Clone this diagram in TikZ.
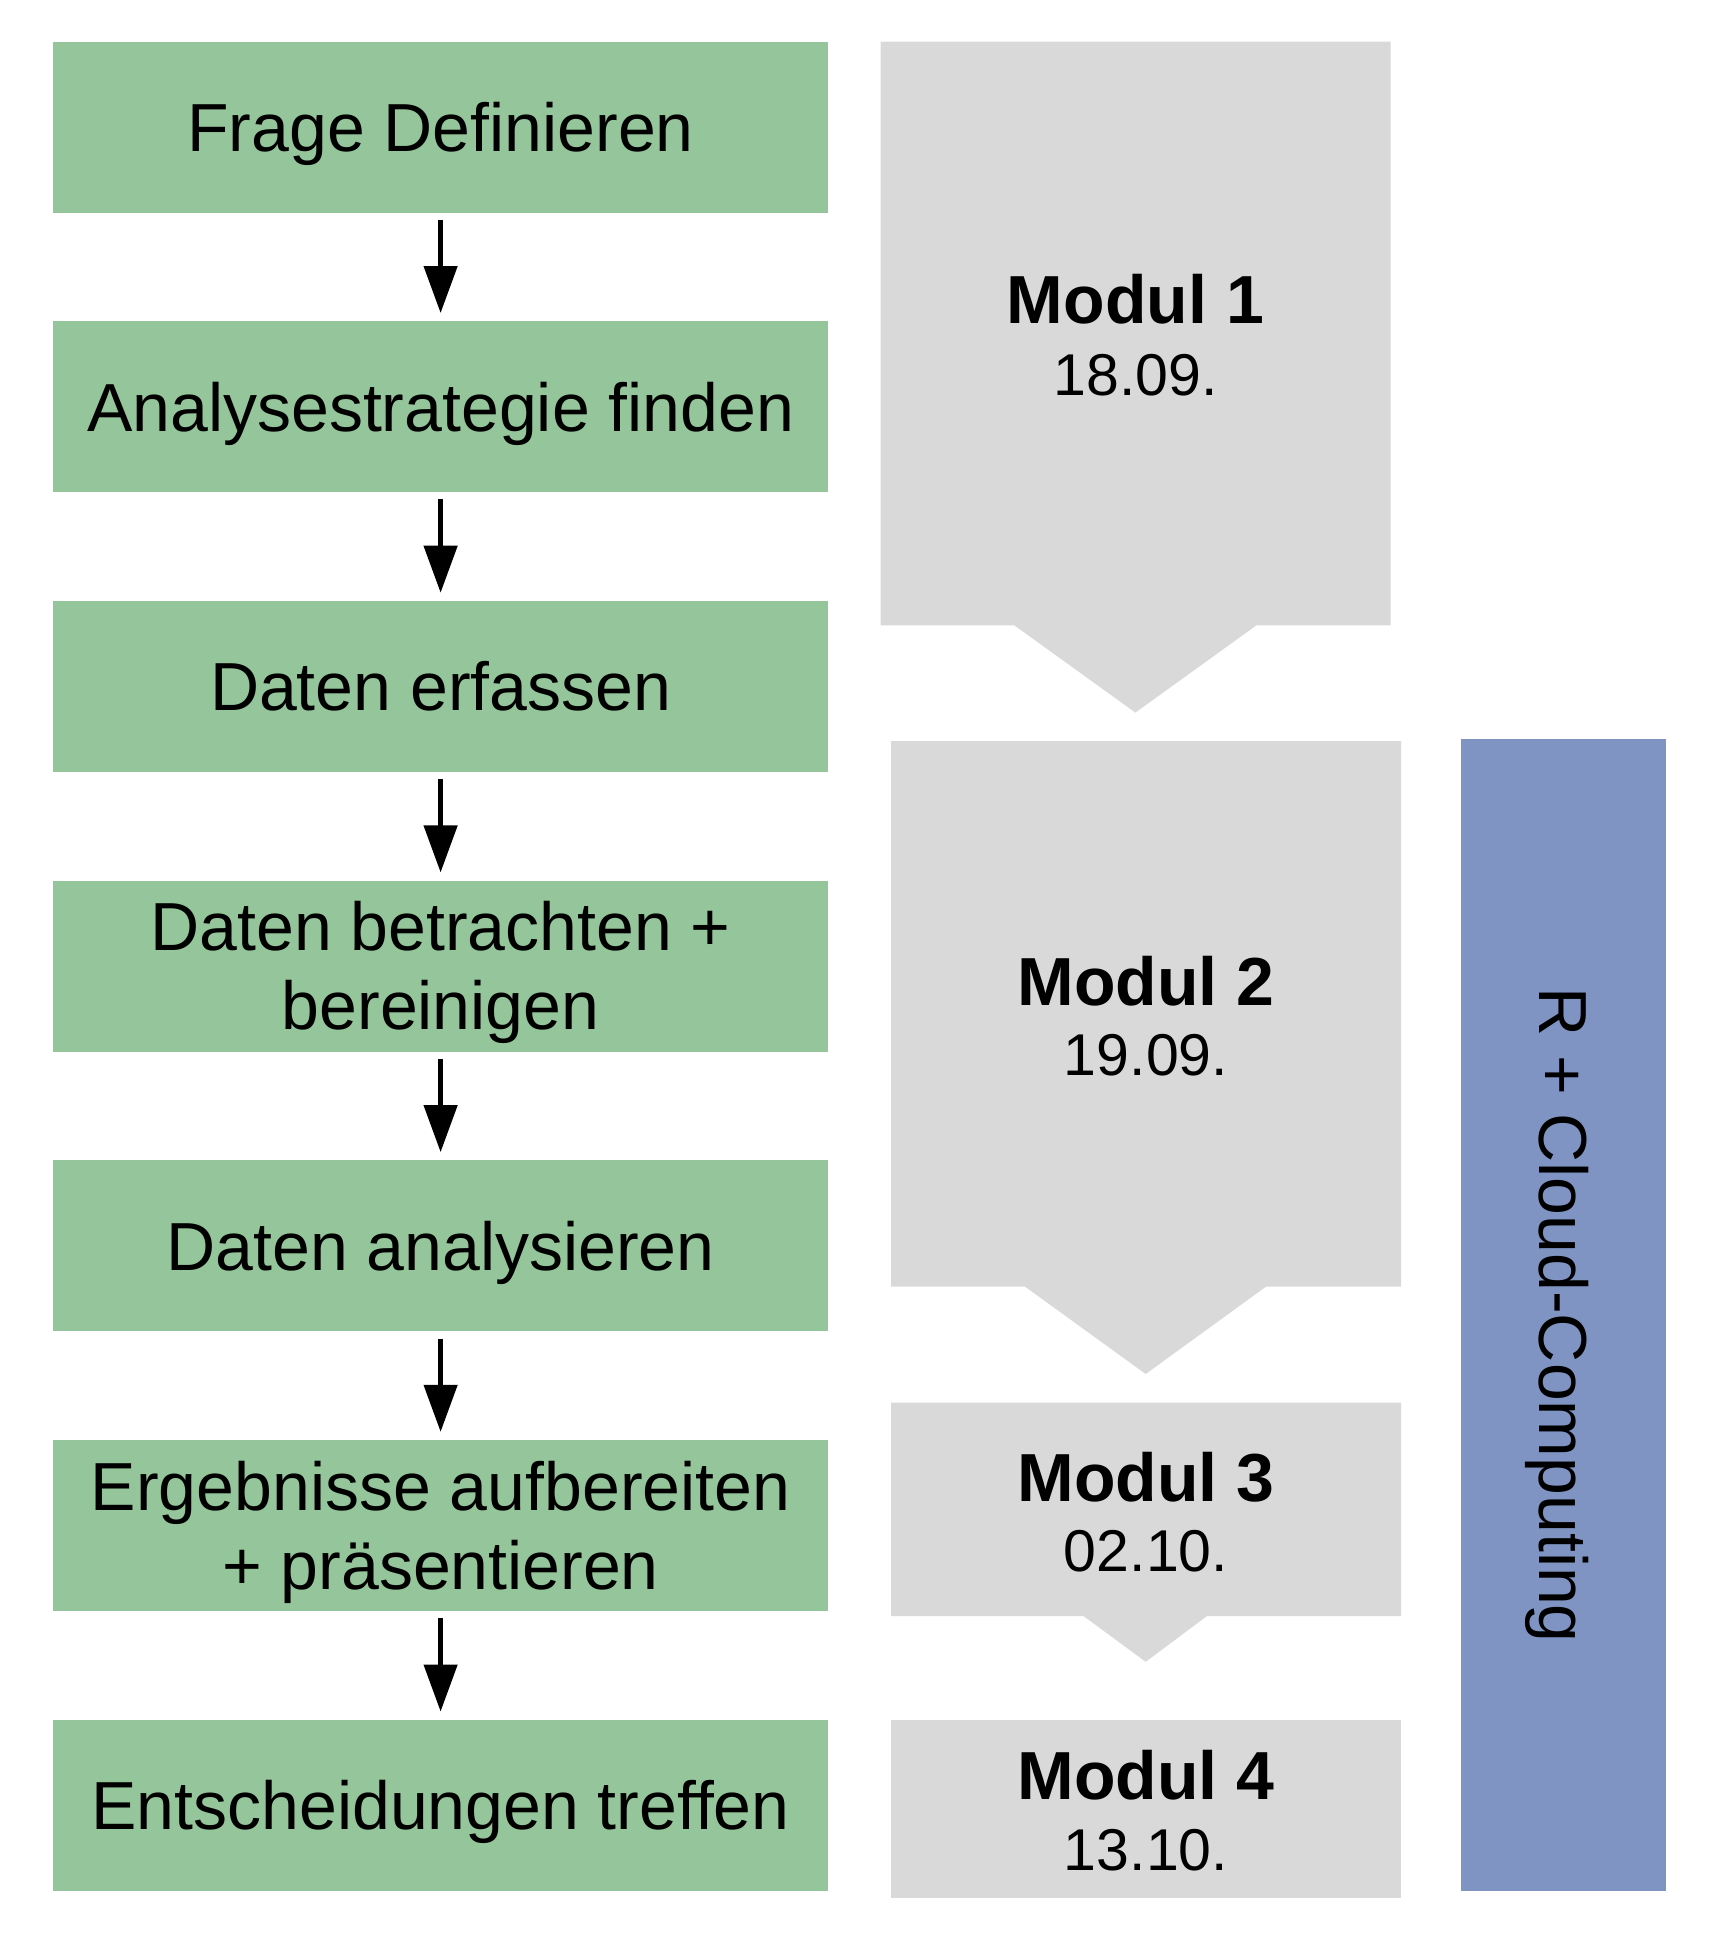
\documentclass[tikz,border=0pt]{standalone}
\usepackage{fontspec}
\setmainfont{Liberation Sans}
\usetikzlibrary{arrows.meta}
\definecolor{boxgreen}{HTML}{95C59A}
\definecolor{modgray}{HTML}{D9D9D9}
\definecolor{barblue}{HTML}{8094C3}
\tikzset{
  stepbox/.style={fill=boxgreen, minimum width=775.6pt, minimum height=171pt, inner sep=0pt,
    align=center, font=\fontsize{68}{79}\selectfont, text height=48.7pt, text depth=0pt},
  stepboxtwo/.style={stepbox, text height=127.7pt, text depth=0pt},
  flowarrow/.style={line width=4.6pt, -{Triangle[length=47pt,width=33pt]}, shorten <=7pt, shorten >=8pt},
  modshape/.style={fill=modgray},
  modtitle/.style={anchor=base, inner sep=0pt, font=\fontsize{68}{80}\selectfont\bfseries},
  moddate/.style={anchor=base, inner sep=0pt, font=\fontsize{59}{70}\selectfont},
  barbox/.style={fill=barblue, minimum width=1152pt, minimum height=205pt, inner sep=0pt, rotate=-90,
    font=\fontsize{68}{80}\selectfont, text height=48.7pt, text depth=0pt}
}
\begin{document}
\begin{tikzpicture}[x=1pt,y=-1pt]
\useasboundingbox (0,0) rectangle (1715,1939);
% left flow
\node[stepbox] (b1) at (440.6,127) {Frage Definieren};
\node[stepbox] (b2) at (440.6,406.7) {Analysestrategie finden};
\node[stepbox] (b3) at (440.6,686.4) {Daten erfassen};
\node[stepboxtwo] (b4) at (440.6,966.1) {Daten betrachten +\\bereinigen};
\node[stepbox] (b5) at (440.6,1245.8) {Daten analysieren};
\node[stepboxtwo] (b6) at (440.6,1525.5) {Ergebnisse aufbereiten\\+ präsentieren};
\node[stepbox] (b7) at (440.6,1805.2) {Entscheidungen treffen};
\draw[flowarrow] (b1) -- (b2);
\draw[flowarrow] (b2) -- (b3);
\draw[flowarrow] (b3) -- (b4);
\draw[flowarrow] (b4) -- (b5);
\draw[flowarrow] (b5) -- (b6);
\draw[flowarrow] (b6) -- (b7);
% module shapes
\fill[modshape] (880.7,41.7) -- (1390.5,41.7) -- (1390.5,625.3) -- (1256.4,625.3) -- (1135.4,712.6) -- (1014.3,625.3) -- (880.7,625.3) -- cycle;
\fill[modshape] (891,741) -- (1401,741) -- (1401,1286.6) -- (1266,1286.6) -- (1145.7,1374) -- (1025,1286.6) -- (891,1286.6) -- cycle;
\fill[modshape] (891,1402.6) -- (1401,1402.6) -- (1401,1616) -- (1207,1616) -- (1145.7,1661.8) -- (1083.5,1616) -- (891,1616) -- cycle;
\fill[modshape] (891,1720.4) rectangle (1401,1897.7);
\node[modtitle] (m1t) at (1135.4,323.8) {Modul 1};
\node[moddate] (m1d) at (1135.4,395) {18.09.};
\node[modtitle] (m2t) at (1146,1005) {Modul 2};
\node[moddate] (m2d) at (1146,1075) {19.09.};
\node[modtitle] (m3t) at (1146,1501) {Modul 3};
\node[moddate] (m3d) at (1146,1571.6) {02.10.};
\node[modtitle] (m4t) at (1146,1799.7) {Modul 4};
\node[moddate] (m4d) at (1146,1870) {13.10.};
% side bar
\node[barbox] (rc) at (1563.5,1315) {R + Cloud-Computing};
\end{tikzpicture}
\end{document}
